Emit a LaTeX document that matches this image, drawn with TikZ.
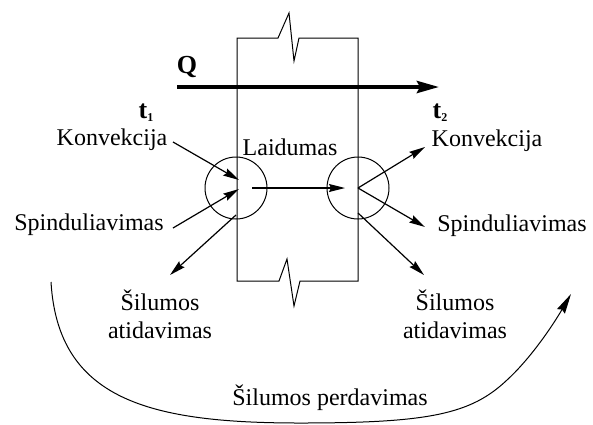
\documentclass[tikz,border=0pt]{standalone}
\usepackage{fontspec}
\setmainfont{Liberation Serif}
\usetikzlibrary{arrows.meta}
\newcommand{\smallsub}[1]{\raisebox{-3pt}{\fontsize{12}{12}\selectfont #1}}
\begin{document}
\begin{tikzpicture}[x=1pt,y=-1pt,
  lbl/.style={font=\fontsize{24}{28}\selectfont, inner sep=0pt, align=center},
  big/.style={font=\fontsize{26}{26}\selectfont\bfseries, inner sep=0pt},
  tip/.style={-{Stealth[length=16pt,width=8pt,inset=2pt]}},
  arr/.style={tip, line width=1.2pt},
  wall/.style={line width=1pt},
  ring/.style={circle, draw, line width=1pt, minimum size=62pt, inner sep=0pt}]
\useasboundingbox (0,0) rectangle (593,424);
% wall
\draw[wall] (237,281) -- (237,38) -- (278,38) -- (289,13) -- (294,61) -- (299,38) -- (358,38)
  -- (358,281) -- (300,281) -- (294,306) -- (287,259) -- (279,281) -- cycle;
% circles
\node[ring] (c1) at (236,188) {};
\node[ring] (c2) at (358,188) {};
% Q arrow
\coordinate (qs) at (177,87);
\coordinate (qe) at (439,87);
\draw[line width=4pt, -{Stealth[length=22pt,width=12pt,inset=3pt]}] (qs) -- (qe);
\node[big] (Q) at (187,67) {Q};
% labels
\node[big] (t1) at (146,113) {t\smallsub{1}};
\node[big] (t2) at (440,113) {t\smallsub{2}};
\node[lbl] (kl) at (112,140) {Konvekcija};
\node[lbl] (sl) at (89,225) {Spinduliavimas};
\node[lbl] (al) at (160,314) {Šilumos\\atidavimas};
\node[lbl] (ld) at (290,147) {Laidumas};
\node[lbl] (kr) at (487,141) {Konvekcija};
\node[lbl] (sr) at (512,226) {Spinduliavimas};
\node[lbl] (ar) at (455,314) {Šilumos\\atidavimas};
\node[lbl] (pd) at (330,398) {Šilumos perdavimas};
% coordinates
\coordinate (k1s) at (173,142);
\coordinate (k1e) at (239,180);
\coordinate (s1s) at (173,228);
\coordinate (s1e) at (239,189);
\coordinate (a1s) at (236,215);
\coordinate (a1e) at (170,275);
\coordinate (ls) at (252,188);
\coordinate (le) at (345,188);
\coordinate (k2e) at (425,147);
\coordinate (s2e) at (425,227);
\coordinate (a2s) at (358,213);
\coordinate (a2e) at (424,275);
\coordinate (cs) at (51,282);
\coordinate (cm) at (300,423);
\coordinate (cr) at (507,380);
\coordinate (ce) at (571,294);
% arrows
\draw[arr] (k1s) -- (k1e);
\draw[arr] (s1s) -- (s1e);
\draw[arr] (a1s) -- (a1e);
\draw[arr] (ls) -- (le);
\draw[arr] (c2.center) -- (k2e);
\draw[arr] (c2.center) -- (s2e);
\draw[arr] (a2s) -- (a2e);
\draw[-{Stealth[length=20pt,width=9pt,inset=2pt]}, line width=1pt]
  (cs) .. controls (58,400) and (150,423) .. (cm)
  .. controls (430,423) and (471,414) .. (cr)
  .. controls (531,358) and (553,325) .. (ce);
\end{tikzpicture}
\end{document}
